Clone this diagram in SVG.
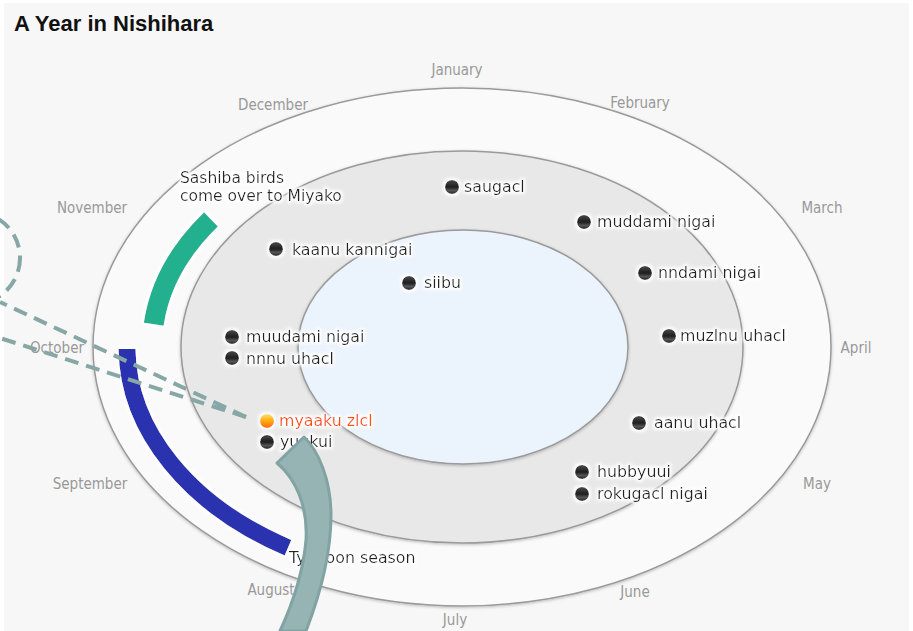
<svg xmlns="http://www.w3.org/2000/svg" width="913" height="631" viewBox="0 0 913 631">
<style>
.month{font-family:'DejaVu Sans Condensed','DejaVu Sans',sans-serif;font-stretch:condensed;font-size:15px;fill:#999;text-anchor:middle}
.lbl{font-family:'DejaVu Sans',sans-serif;font-size:15.8px;fill:#222}
.ring{stroke:#9a9a9a;stroke-width:1.5}
.dash{fill:none;stroke:#87a7a7;stroke-width:4;stroke-dasharray:14 8}
.dot{fill:url(#gDark)}
</style>
<defs>
<linearGradient id="gDark" x1="0" y1="0" x2="0" y2="1">
<stop offset="0" stop-color="#4a4a4a"/><stop offset="0.5" stop-color="#1e1e1e"/><stop offset="0.75" stop-color="#555"/><stop offset="1" stop-color="#222"/>
</linearGradient>
<linearGradient id="gOrange" x1="0" y1="0" x2="0" y2="1">
<stop offset="0" stop-color="#ffe070"/><stop offset="0.5" stop-color="#ffaa10"/><stop offset="1" stop-color="#ff6a00"/>
</linearGradient>
<filter id="halo" x="-10%" y="-40%" width="120%" height="180%">
<feMorphology in="SourceAlpha" operator="dilate" radius="1.5" result="d"/>
<feGaussianBlur in="d" stdDeviation="1.5" result="b"/>
<feFlood flood-color="#fff" flood-opacity="0.95"/>
<feComposite in2="b" operator="in" result="w"/>
<feMerge><feMergeNode in="w"/><feMergeNode in="SourceGraphic"/></feMerge>
</filter>
<filter id="shadow" x="-5%" y="-5%" width="110%" height="110%">
<feDropShadow dx="0" dy="1" stdDeviation="1.5" flood-color="#000" flood-opacity="0.25"/>
</filter>
</defs>
<rect x="0" y="0" width="913" height="631" fill="#fff"/>
<rect x="4" y="3" width="905" height="628" fill="#f7f7f7"/>
<text x="14" y="31" font-family="'Liberation Sans',Arial,sans-serif" font-weight="bold" font-size="22" fill="#111">A Year in Nishihara</text>

<g id="rings">
<ellipse class="ring" cx="462" cy="347" rx="369" ry="259" fill="#fafafa" filter="url(#shadow)"/>
<ellipse class="ring" cx="462" cy="347" rx="281" ry="196" fill="#e8e8e8" filter="url(#shadow)"/>
<ellipse class="ring" cx="463" cy="347" rx="165" ry="117" fill="#ebf3fc" filter="url(#shadow)"/>
</g>

<g id="months">
<text class="month" x="457" y="75">January</text>
<text class="month" x="640" y="108">February</text>
<text class="month" x="822" y="213">March</text>
<text class="month" x="856" y="353">April</text>
<text class="month" x="817" y="489">May</text>
<text class="month" x="635" y="597">June</text>
<text class="month" x="455" y="625">July</text>
<text class="month" x="271" y="595">August</text>
<text class="month" x="90" y="489">September</text>
<text class="month" x="57" y="353">October</text>
<text class="month" x="92" y="213">November</text>
<text class="month" x="273" y="110">December</text>
</g>

<g id="sashiba" filter="url(#halo)">
<path d="M 211,219.4 A 310 217 0 0 0 153.7,324.3" fill="none" stroke="#20b08f" stroke-width="20"/>
<text class="lbl" x="180" y="183" style="font-size:15.5px">Sashiba birds</text>
<text class="lbl" x="180" y="201" style="font-size:15.5px">come over to Miyako</text>
</g>

<g id="typhoon" filter="url(#halo)">
<text class="lbl" x="289" y="563">Typhoon season</text>
<path d="M 127,349 A 335 235 0 0 0 288,547.7" fill="none" stroke="#2a32b0" stroke-width="17"/>
</g>

<g id="nodes" filter="url(#halo)">
<g id="node-saugacl"><circle class="dot" cx="452" cy="187" r="7"/><text class="lbl" x="464" y="192">saugacl</text></g>
<g id="node-muddami-nigai"><circle class="dot" cx="584" cy="222" r="7"/><text class="lbl" x="597" y="227">muddami nigai</text></g>
<g id="node-kaanu-kannigai"><circle class="dot" cx="276" cy="249" r="7"/><text class="lbl" x="292" y="255">kaanu kannigai</text></g>
<g id="node-nndami-nigai"><circle class="dot" cx="645" cy="273" r="7"/><text class="lbl" x="658" y="278">nndami nigai</text></g>
<g id="node-siibu"><circle class="dot" cx="409" cy="283" r="7"/><text class="lbl" x="424" y="288">siibu</text></g>
<g id="node-muudami-nigai"><circle class="dot" cx="232" cy="337" r="7"/><text class="lbl" x="246" y="342">muudami nigai</text></g>
<g id="node-muzlnu-uhacl"><circle class="dot" cx="669" cy="336" r="7"/><text class="lbl" x="680" y="341">muzlnu uhacl</text></g>
<g id="node-nnnu-uhacl"><circle class="dot" cx="232" cy="358" r="7"/><text class="lbl" x="246" y="364">nnnu uhacl</text></g>
<g id="node-myaaku-zlcl"><circle cx="267" cy="421" r="7" fill="url(#gOrange)"/><text class="lbl" x="279" y="426" style="fill:#ff5200">myaaku zlcl</text></g>
<g id="node-aanu-uhacl"><circle class="dot" cx="639" cy="423" r="7"/><text class="lbl" x="654" y="428">aanu uhacl</text></g>
<g id="node-yuukui"><circle class="dot" cx="267" cy="442" r="7"/><text class="lbl" x="280" y="447">yuukui</text></g>
<g id="node-hubbyuui"><circle class="dot" cx="582" cy="472" r="7"/><text class="lbl" x="597" y="477">hubbyuui</text></g>
<g id="node-rokugacl-nigai"><circle class="dot" cx="582" cy="494" r="7"/><text class="lbl" x="597" y="499">rokugacl nigai</text></g>
</g>

<g id="connectors">
<circle class="dash" cx="-26" cy="258" r="46"/>
<path class="dash" d="M 246,417 L 0,302"/>
<path class="dash" d="M 246,417 L 0,338"/>
<path d="M 277,463 L 304,437 C 318,450 331,480 331,515 C 331,560 318,600 306,631 L 280,631 C 292,605 303,575 306,540 C 308,505 295,478 277,463 Z" fill="#96b4b4" stroke="#82a3a3" stroke-width="3" stroke-linejoin="round"/>
</g>
</svg>
